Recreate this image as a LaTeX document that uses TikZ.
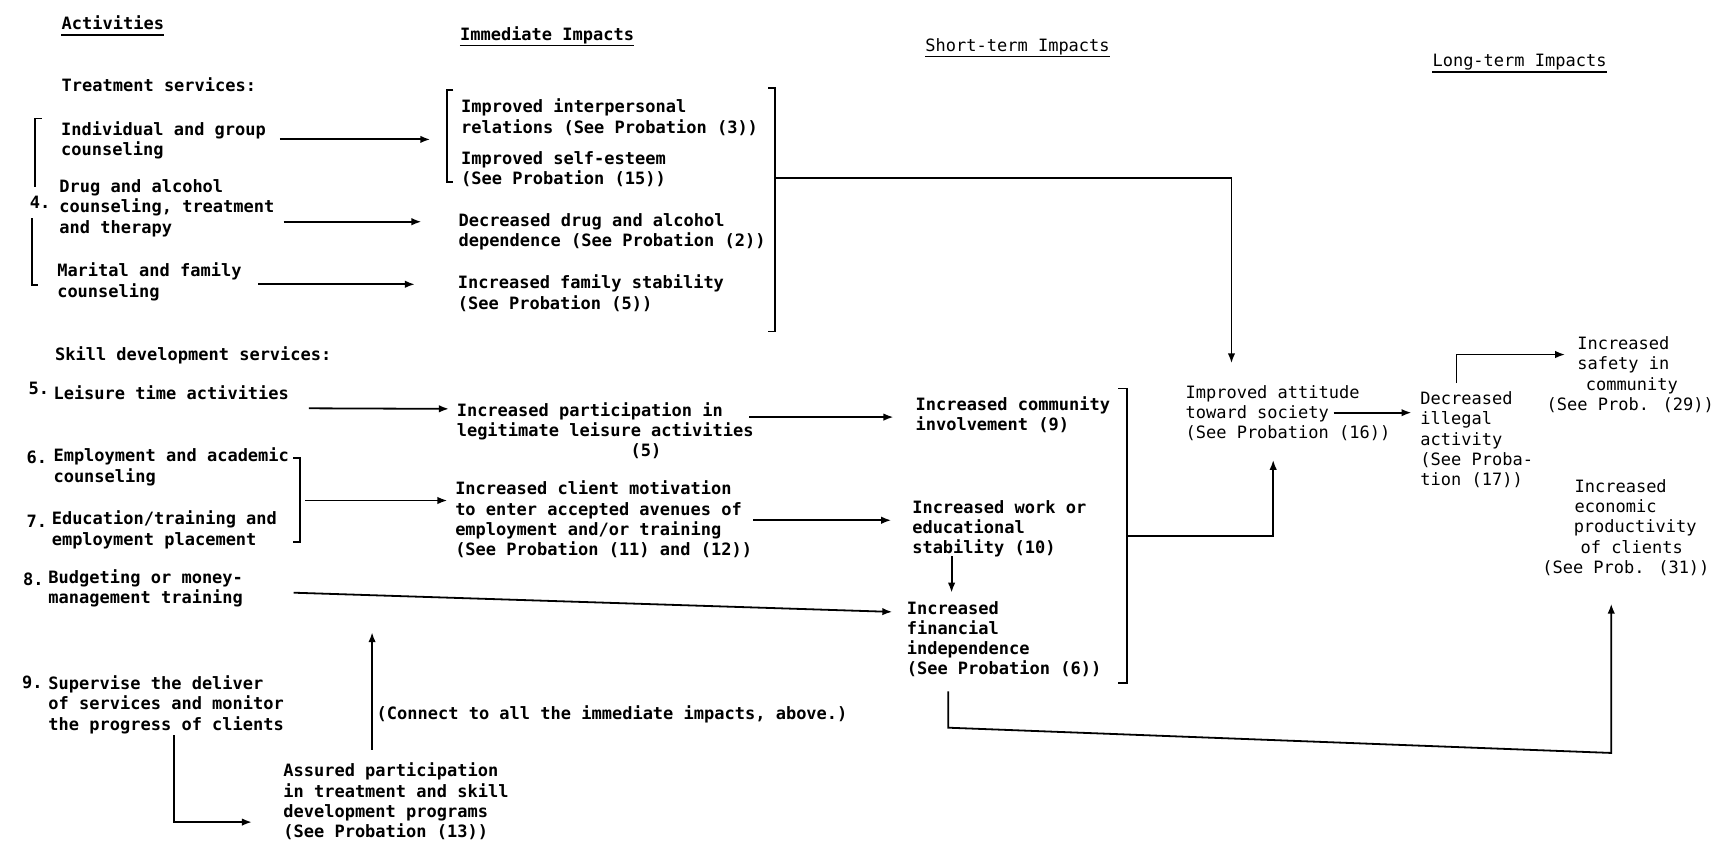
\documentclass[tikz,border=0pt]{standalone}
\usepackage{fontspec}
\usetikzlibrary{arrows.meta, calc}
\newfontfamily\lettfont{DejaVu Sans Mono}
\tikzset{
  txt/.style={inner sep=0pt, anchor=north west, align=left,
              font=\lettfont\fontsize{17pt}{20.3pt}\selectfont\bfseries},
  ltxt/.style={txt, font=\lettfont\fontsize{17pt}{20.3pt}\selectfont\mdseries},
  arr/.style={-{Latex[length=10pt,width=7.5pt]}, line width=1.8pt, #1},
  arr/.default=black,
  brk/.style={line width=1.8pt},
  uline/.style={line width=1.4pt},
}

\begin{document}
\begin{tikzpicture}[x=1.0976pt, y=-1.0976pt]
  \path[fill=white, use as bounding box] (0,0) rectangle (1568,780);

  % column headings
  \node[txt] (hAct) at (56,14.5) {Activities};
  \node[txt] (hImm) at (419,24) {Immediate Impacts};
  \node[ltxt] (hShort) at (843,35) {Short-term Impacts};
  \node[ltxt] (hLong) at (1305,49.5) {Long-term Impacts};
  \foreach \h in {hAct,hImm,hShort,hLong}
    \draw[uline] ([yshift=-5pt]\h.base west) -- ([yshift=-5pt]\h.base east);

  % activities
  \node[txt] (treat) at (56,71) {Treatment services:};
  \node[txt] (indiv) at (55.6,110.5) {Individual and group\\counseling};
  \node[txt] (drug) at (54,163.5) {Drug and alcohol\\counseling, treatment\\and therapy};
  \node[txt] (marital) at (52,239.5) {Marital and family\\counseling};
  \node[txt] (num4) at (27,178.5) {4.};
  \node[txt] (skill) at (50,315.5) {Skill development services:};
  \node[txt] (num5) at (26,347.5) {5.};
  \node[txt] (leis) at (48.6,351.5) {Leisure time activities};
  \node[txt] (num6) at (24,411) {6.};
  \node[txt] (emp) at (48.6,408) {Employment and academic\\counseling};
  \node[txt] (num7) at (24,469) {7.};
  \node[txt] (edu) at (47,465.5) {Education/training and\\employment placement};
  \node[txt] (num8) at (21,521.5) {8.};
  \node[txt] (budg) at (44,518.5) {Budgeting or money-\\management training};
  \node[txt] (num9) at (20,615.5) {9.};
  \node[txt] (superv) at (44,615.5) {Supervise the deliver\\of services and monitor\\the progress of clients};
  \node[txt] (assured) at (258,695) {Assured participation\\in treatment and skill\\development programs\\(See Probation (13))};
  \node[txt] (connect) at (343,642.5) {(Connect to all the immediate impacts, above.)};

  % immediate impacts
  \node[txt] (impA) at (420,90) {Improved interpersonal\\relations (See Probation (3))};
  \node[txt] (impB) at (420,137.5) {Improved self-esteem\\(See Probation (15))};
  \node[txt] (impC) at (417.6,194) {Decreased drug and alcohol\\dependence (See Probation (2))};
  \node[txt] (impD) at (417,250.5) {Increased family stability\\(See Probation (5))};
  \node[txt] (impE) at (416,366.5) {Increased participation in\\legitimate leisure activities\\\hspace*{10.23em}(5)};
  \node[txt] (impF) at (414.6,438) {Increased client motivation\\to enter accepted avenues of\\employment and/or training\\(See Probation (11) and (12))};

  % short-term impacts
  \node[txt] (stA) at (834,361) {Increased community\\involvement (9)};
  \node[txt] (stB) at (831,455.5) {Increased work or\\educational\\stability (10)};
  \node[txt] (stC) at (826,547.5) {Increased\\financial\\independence\\(See Probation (6))};

  % long-term impacts
  \node[ltxt] (att) at (1080,351) {Improved attitude\\toward society\\(See Probation (16))};
  \node[ltxt] (illeg) at (1294,356.5) {Decreased\\illegal\\activity\\(See Proba-\\tion (17))};
  \node[ltxt] (safety) at (1409,306.5) {\hspace*{1.8em}Increased\\\hspace*{1.8em}safety in\\\hspace*{2.3em}community\\(See Prob. (29))};
  \node[ltxt] (econ) at (1405,436.5) {\hspace*{1.9em}Increased\\\hspace*{1.9em}economic\\\hspace*{1.85em}productivity\\\hspace*{2.25em}of clients\\(See Prob. (31))};

  % brackets
  \draw[brk] (38,108) -- (32,108) -- (32,170);
  \draw[brk] (29.5,199) -- (29.5,260) -- (35,260);
  \draw[brk] (413,82) -- (407,82) -- (407,165.5) -- (413,165.5);
  \draw[brk] (700,80.5) -- (706,80.5) -- (706,302) -- (700,302);
  \draw[brk] (267,417) -- (273,417) -- (273,494) -- (267,494);
  \draw[brk] (1019,354) -- (1027,354) -- (1027,622) -- (1019,622);
  \coordinate (immR) at (706,162);
  \coordinate (r67) at (273,456);
  \coordinate (shortR) at (1027,488);
  \coordinate (upEnd) at (339,576);

  % connectors
  \draw[arr] ($(indiv.north east)+(12.6,16.5)$) -- ($(impA.north west)+(-28,37)$);
  \draw[arr] ($(drug.north east)+(8.3,38.5)$) -- ($(impC.north west)+(-33.6,8)$);
  \draw[arr] ($(marital.north east)+(15,19.5)$) -- ($(impD.north west)+(-39,8.5)$);
  \draw[arr] (immR) -| ($(att.north west)+(42,-20)$);
  \draw[arr] ($(leis.north east)+(18,20.5)$) -- ($(impE.north west)+(-7,6)$);
  \draw[arr] ($(impE.north east)+(-4,13.5)$) -- ($(stA.north west)+(-20,19)$);
  \draw[arr] ($(r67)+(5,0)$) -- ($(impF.north west)+(-7,18)$);
  \draw[arr] ($(impF.north east)+(1,36)$) -- ($(stB.north west)+(-19,18.5)$);
  \draw[arr] ($(stB.north west)+(36,51.5)$) -- ($(stC.north west)+(41,-7.5)$);
  \draw[arr] ($(budg.north east)+(46,21.5)$) -- ($(stC.north west)+(-13,10)$);
  \draw[arr] ($(superv.north west)+(114.5,54.5)$) |- ($(assured.north west)+(-28.5,54)$);
  \draw[arr] ($(assured.north west)+(81,-12)$) -- (upEnd);
  \draw[arr] (shortR) -| ($(att.north west)+(80,68)$);
  \draw[arr] ($(att.north west)+(135,25)$) -- ($(illeg.north west)+(-8,19.5)$);
  \draw[arr] ($(illeg.north west)+(33,-7.5)$) |- ($(safety.north west)+(17,16.5)$);
  \draw[arr] ($(stC.north west)+(38,82.5)$) -- ++(0,33) -- ++(604,23) -- ($(econ.north west)+(63,113.5)$);
\end{tikzpicture}
\end{document}
